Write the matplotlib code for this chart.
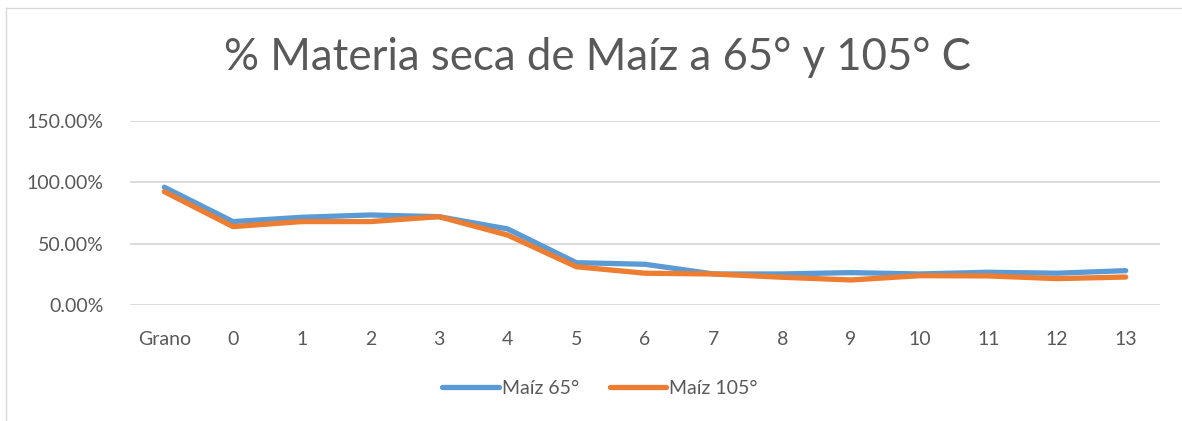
import matplotlib
matplotlib.use("Agg")
import matplotlib.pyplot as plt
from matplotlib.lines import Line2D
from matplotlib.ticker import PercentFormatter

plt.rcParams["font.family"] = ["Lato", "DejaVu Sans"]

# data
categories = ["Grano", "0", "1", "2", "3", "4", "5", "6", "7", "8", "9", "10", "11", "12", "13"]
maiz_65 = [0.96, 0.68, 0.715, 0.734, 0.72, 0.62, 0.345, 0.332, 0.253, 0.253, 0.264, 0.253, 0.267, 0.259, 0.28]
maiz_105 = [0.924, 0.639, 0.68, 0.68, 0.72, 0.57, 0.312, 0.259, 0.253, 0.226, 0.204, 0.239, 0.237, 0.215, 0.228]
y_ticks = [0.0, 0.5, 1.0, 1.5]

gray = "#595959"
W, H = 1182, 421
fig = plt.figure(figsize=(W / 100, H / 100), dpi=100)
ax = fig.add_axes([130 / W, (H - 305) / H, 1030 / W, 184 / H])

x = range(len(categories))
ax.plot(x, maiz_65, color="#5B9BD5", lw=3.8, solid_capstyle="round", label="Maíz 65°")
ax.plot(x, maiz_105, color="#ED7D31", lw=3.8, solid_capstyle="round", label="Maíz 105°")

ax.set_xlim(-0.5, len(categories) - 0.5)
ax.set_ylim(0, 1.5)
ax.set_xticks(list(x))
ax.set_xticklabels(categories)
ax.set_yticks(y_ticks)
ax.yaxis.set_major_formatter(PercentFormatter(1.0, decimals=2))
ax.grid(axis="y", color="#D9D9D9", lw=1.3)
ax.set_axisbelow(True)
for s in ax.spines.values():
    s.set_visible(False)
ax.tick_params(length=0, labelsize=14, colors=gray)
ax.tick_params(axis="x", pad=19)
ax.tick_params(axis="y", pad=19)

fig.text(598 / W, (H - 57) / H, "% Materia seca de Maíz a 65° y 105° C",
         ha="center", va="center", fontsize=31.5, color=gray)

leg = fig.legend(loc="center", bbox_to_anchor=(600 / W, (H - 388) / H), ncol=2,
                 frameon=False, fontsize=14, handlelength=2.9, handletextpad=0.15,
                 columnspacing=1.6, labelcolor=gray)

# chart area border (top and left edges only are visible)
fig.add_artist(Line2D([6 / W, 1], [(H - 8) / H, (H - 8) / H], color="#D9D9D9", lw=1))
fig.add_artist(Line2D([6 / W, 6 / W], [0, (H - 8) / H], color="#D9D9D9", lw=1))

fig.savefig("out.png", dpi=100)
